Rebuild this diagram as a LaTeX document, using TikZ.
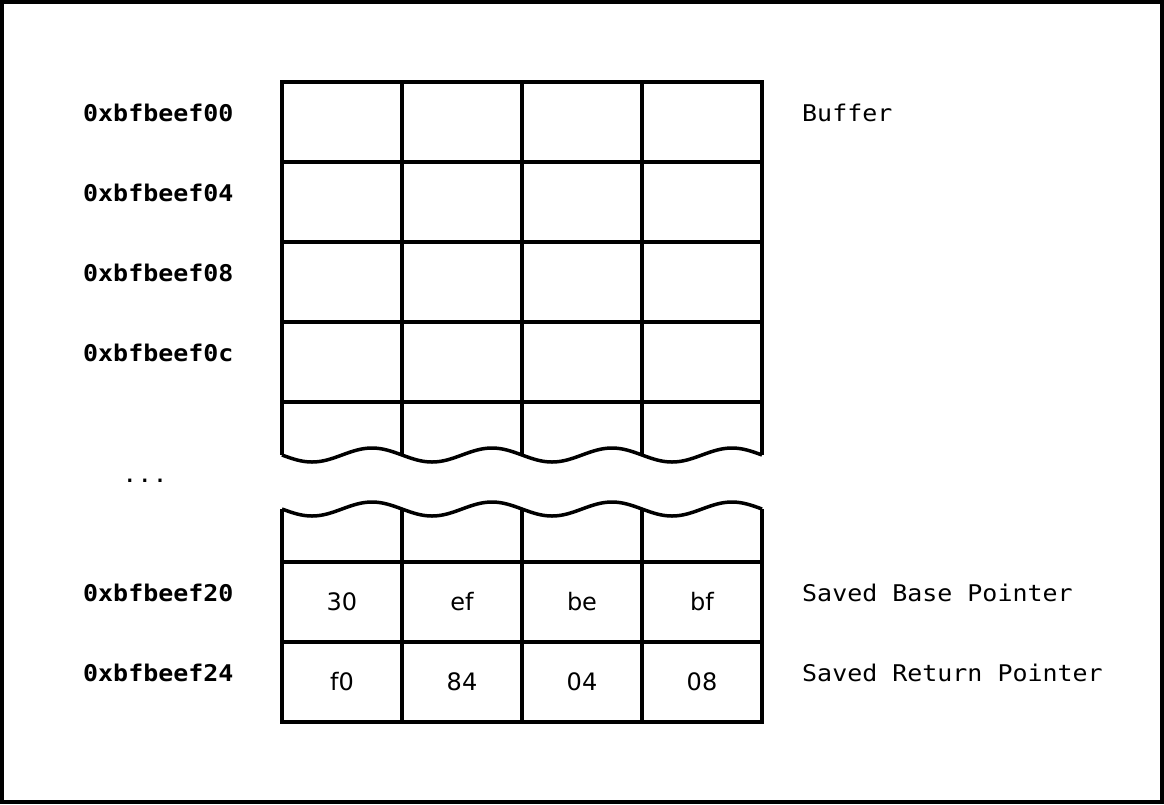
\documentclass[tikz,border=0pt]{standalone}
\usepackage{fontspec}
\newfontfamily\monofont[FakeStretch=1.085]{DejaVu Sans Mono}
\newfontfamily\cellfont{DejaVu Sans}
\begin{document}
\begin{tikzpicture}[x=1pt,y=-1pt,
  ln/.style={line width=3.5pt},
  cell/.style={draw,line width=3.5pt,minimum width=120pt,minimum height=80pt,inner sep=0pt,outer sep=0pt,font=\cellfont\fontsize{24}{28}\selectfont},
  addr/.style={anchor=west,inner sep=0pt,font=\monofont\bfseries\fontsize{23}{27}\selectfont},
  note/.style={anchor=west,inner sep=0pt,font=\monofont\fontsize{23}{27}\selectfont}]
\useasboundingbox (0,0) rectangle (1164,804);
\draw[line width=4pt] (2,2) rectangle (1162,802);
% upper full rows
\foreach \r/\y in {1/122,2/202,3/282,4/362}{
  \foreach \c/\x in {1/342,2/462,3/582,4/702}{
    \node[cell] (u\r\c) at (\x,\y) {};
  }
}
% upper partial row
\foreach \x in {282,402,522,642,762}{
  \draw[ln] (\x,402) -- (\x,455);
}
\draw[ln,line join=round] plot[domain=282:762,samples=161,smooth] (\x,{455+7*sin(3*(\x-282))});
% lower wave and partial row
\draw[ln,line join=round] plot[domain=282:762,samples=161,smooth] (\x,{509+7*sin(3*(\x-282))});
\foreach \x in {282,402,522,642,762}{
  \draw[ln] (\x,509) -- (\x,562);
}
% lower full rows
\node[cell] (a1) at (342,602) {30};
\node[cell] (a2) at (462,602) {ef};
\node[cell] (a3) at (582,602) {be};
\node[cell] (a4) at (702,602) {bf};
\node[cell] (b1) at (342,682) {f0};
\node[cell] (b2) at (462,682) {84};
\node[cell] (b3) at (582,682) {04};
\node[cell] (b4) at (702,682) {08};
% addresses
\node[addr] (ad0) at (83,113) {0xbfbeef00};
\node[addr] (ad4) at (83,193) {0xbfbeef04};
\node[addr] (ad8) at (83,273) {0xbfbeef08};
\node[addr] (adc) at (83,353) {0xbfbeef0c};
\node[addr] (ad20) at (83,593) {0xbfbeef20};
\node[addr] (ad24) at (83,673) {0xbfbeef24};
\node[note,anchor=base] (dots) at (145,482) {...};
% notes
\node[note] (nbuf) at (802,113) {Buffer};
\node[note] (nsbp) at (802,593) {Saved Base Pointer};
\node[note] (nsrp) at (802,673) {Saved Return Pointer};
\end{tikzpicture}
\end{document}
